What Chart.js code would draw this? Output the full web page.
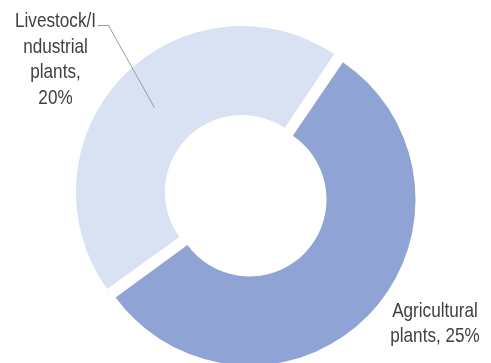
<!DOCTYPE html>
<html>
<head>
<meta charset="utf-8">
<script src="https://cdn.jsdelivr.net/npm/chart.js@4/dist/chart.umd.min.js"></script>
<style>
  html, body { margin: 0; padding: 0; background: #ffffff; }
  #wrap { width: 491px; height: 363px; position: relative; }
</style>
</head>
<body>
<div id="wrap"><canvas id="chart"></canvas></div>
<script>
// Share of plant types
const categories = ['Livestock/Industrial plants', 'Agricultural plants'];
const shares = [20, 25];
const sliceLabels = [
  ['Livestock/I', 'ndustrial', 'plants,', '20%'],
  ['Agricultural', 'plants, 25%']
];

const FONT = '21px "Liberation Sans Narrow", "Arial Narrow", "Liberation Sans", sans-serif';
const LINE_H = 25.7;
const NARROW_WIDTH = 4.08; // em width of "Agricultural" in a narrow face

// Draws the slice captions and the leader line to the first slice
const calloutPlugin = {
  id: 'callouts',
  afterDatasetsDraw(chart) {
    const ctx = chart.ctx;
    const arcs = chart.getDatasetMeta(0).data;
    ctx.save();
    ctx.font = FONT;
    ctx.fillStyle = '#404040';
    ctx.textAlign = 'center';
    ctx.textBaseline = 'alphabetic';

    // squeeze a regular face to narrow proportions when no narrow face exists
    const f = Math.min(1, (NARROW_WIDTH * 21) / ctx.measureText('Agricultural').width);
    const put = (t, x, y) => {
      ctx.save();
      ctx.translate(x, y);
      ctx.scale(f, 1);
      ctx.fillText(t, 0, 0);
      ctx.restore();
    };

    // left caption block
    const lx = 55.5, ly = 27;
    sliceLabels[0].forEach((t, i) => put(t, lx, ly + i * LINE_H));
    // right caption block
    const rx = 435, ry = 316.5;
    sliceLabels[1].forEach((t, i) => put(t, rx, ry + i * LINE_H));

    // leader from the first caption to the middle of its slice
    const a = arcs[0];
    const off = (a.options.offset || 0) / 4;
    const half = (a.startAngle + a.endAngle) / 2;
    const circ = a.endAngle - a.startAngle;
    const grow = off * (1 - Math.sin(Math.min(Math.PI, circ)));
    const rMid = (a.innerRadius + a.outerRadius) / 2 + grow;
    const cx = a.x + Math.cos(half) * off;
    const cy = a.y + Math.sin(half) * off;
    const ex = cx + Math.cos(half) * rMid;
    const ey = cy + Math.sin(half) * rMid;
    const w = ctx.measureText(sliceLabels[0][0]).width * f;
    const sx = lx + w / 2 + 1.5;
    const sy = ly - 1.5;
    ctx.strokeStyle = '#9a9a9a';
    ctx.lineWidth = 1;
    ctx.beginPath();
    ctx.moveTo(sx, sy);
    ctx.lineTo(sx + 11, sy);
    ctx.lineTo(ex, ey);
    ctx.stroke();
    ctx.restore();
  }
};

new Chart(document.getElementById('chart'), {
  type: 'doughnut',
  data: {
    labels: categories,
    datasets: [{
      data: shares,
      backgroundColor: ['#D9E2F3', '#8FA4D4'],
      borderWidth: 0,
      offset: [25.6, 16.8],
      hoverOffset: 0
    }]
  },
  options: {
    responsive: true,
    maintainAspectRatio: false,
    animation: false,
    rotation: 234,
    radius: 161.8,
    cutout: '45%',
    layout: { padding: { top: 30, left: 2, right: 0, bottom: 0 } },
    plugins: {
      legend: { display: false },
      tooltip: { enabled: false }
    },
    events: []
  },
  plugins: [calloutPlugin]
});
</script>
</body>
</html>
